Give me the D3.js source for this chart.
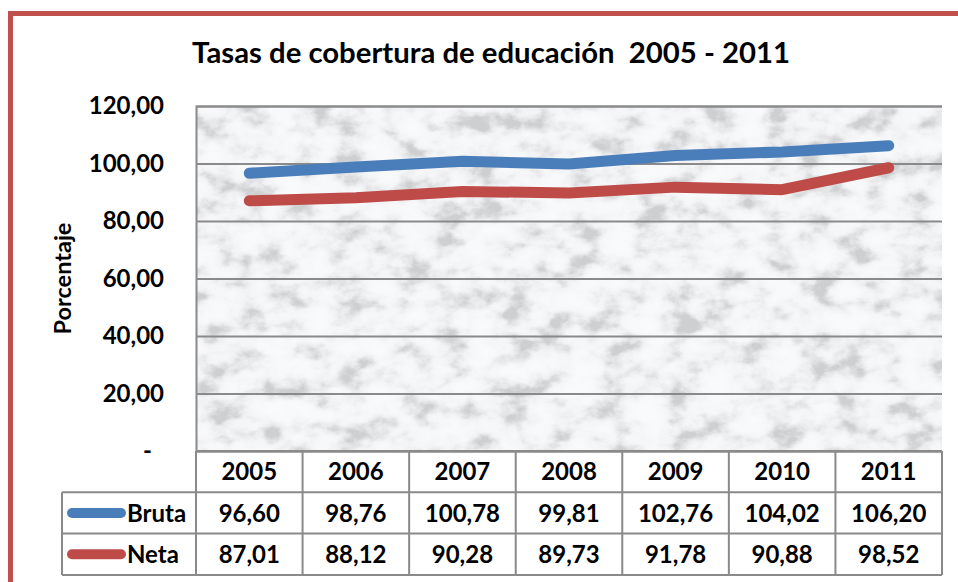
<!DOCTYPE html>
<html>
<head>
<meta charset="utf-8">
<script src="https://cdn.jsdelivr.net/npm/d3@7"></script>
<style>
  body { margin: 0; background: #ffffff; }
  svg { display: block; font-family: Lato, "Open Sans", sans-serif; font-weight: bold; }
</style>
</head>
<body>
<div class="chart-container"></div>
<script>
// Data
const years = ['2005', '2006', '2007', '2008', '2009', '2010', '2011'];
const bruta = [96.60, 98.76, 100.78, 99.81, 102.76, 104.02, 106.20];
const neta = [87.01, 88.12, 90.28, 89.73, 91.78, 90.88, 98.52];
const seriesNames = ['Bruta', 'Neta'];
const seriesColors = ['#4a7ebb', '#be4b48'];
const yTicks = [0, 20, 40, 60, 80, 100, 120];

const series = [bruta, neta];

// Layout
const W = 958, H = 582;
const plot = { left: 196, right: 942, top: 106, bottom: 451 };
const rowH = 41.3;
const legendLeft = 62;
const gridColor = '#8a8a8a';
const fontSize = 24;

const locale = d3.formatLocale({ decimal: ',', thousands: '.', grouping: [3], currency: ['', ''] });
const fmt = locale.format(',.2f');
const tickFmt = d => d === 0 ? '-' : fmt(d);

const x = d3.scaleBand().domain(years).range([plot.left, plot.right]).padding(0);
const y = d3.scaleLinear().domain([0, 120]).range([plot.bottom, plot.top]);
const cx = d => x(d) + x.bandwidth() / 2;

const svg = d3.select('.chart-container')
    .append('svg')
    .attr('width', W)
    .attr('height', H);

// Marble texture filter (stretched fractal noise)
const defs = svg.append('defs');
const marble = defs.append('filter')
    .attr('id', 'marble')
    .attr('filterUnits', 'userSpaceOnUse')
    .attr('x', plot.left).attr('y', plot.top)
    .attr('width', plot.right - plot.left).attr('height', plot.bottom - plot.top);
marble.append('feTurbulence')
    .attr('type', 'fractalNoise')
    .attr('baseFrequency', '0.03 0.045')
    .attr('numOctaves', 5)
    .attr('seed', 4)
    .attr('result', 'noise');
marble.append('feColorMatrix')
    .attr('in', 'noise')
    .attr('type', 'matrix')
    .attr('values', '2 0 0 0 -0.5  2 0 0 0 -0.5  2 0 0 0 -0.5  0 0 0 0 1')
    .attr('result', 'gray');
const ct = marble.append('feComponentTransfer').attr('in', 'gray');
['feFuncR', 'feFuncG', 'feFuncB'].forEach((f, i) => {
    const tint = [0, 0.006, 0.02][i];
    ct.append(f).attr('type', 'table')
        .attr('tableValues', [0.62, 0.7, 0.78, 0.85, 0.895, 0.92, 0.935, 0.942, 0.947].map(v => Math.min(1, v + tint)).join(' '));
});

// Frame
svg.append('rect')
    .attr('x', 10.5).attr('y', 13.5)
    .attr('width', 1200).attr('height', 1200)
    .attr('fill', 'none')
    .attr('stroke', '#c0504d')
    .attr('stroke-width', 5);

// Title
svg.append('text')
    .attr('x', 491).attr('y', 63)
    .attr('text-anchor', 'middle')
    .attr('font-size', 29.3)
    .attr('fill', '#000')
    .style('white-space', 'pre')
    .text('Tasas de cobertura de educación  2005 - 2011');

// Plot background
svg.append('rect')
    .attr('x', plot.left).attr('y', plot.top)
    .attr('width', plot.right - plot.left).attr('height', plot.bottom - plot.top)
    .attr('fill', '#e9eaed')
    .attr('filter', 'url(#marble)');

// Y axis with gridlines
const yAxis = svg.append('g')
    .attr('transform', `translate(${plot.left},0)`)
    .call(d3.axisLeft(y)
        .tickValues(yTicks)
        .tickSize(-(plot.right - plot.left))
        .tickPadding(32)
        .tickFormat(tickFmt));
yAxis.select('.domain').attr('stroke', gridColor).attr('stroke-width', 2);
yAxis.selectAll('.tick line').attr('stroke', gridColor).attr('stroke-width', 2);
yAxis.selectAll('.tick text')
    .attr('font-size', fontSize)
    .attr('font-family', 'Lato, sans-serif')
    .attr('font-weight', 'bold')
    .attr('fill', '#000');
yAxis.selectAll('.tick').filter(d => d === 0).select('text').attr('x', -44);

// Y axis title
svg.append('text')
    .attr('transform', `translate(71,${(plot.top + plot.bottom) / 2}) rotate(-90)`)
    .attr('text-anchor', 'middle')
    .attr('font-size', 23.5)
    .attr('fill', '#000')
    .text('Porcentaje');

// Lines
const line = d3.line()
    .x((d, i) => cx(years[i]))
    .y(d => y(d));

svg.selectAll('.series-line')
    .data(series)
    .enter()
    .append('path')
    .attr('class', 'series-line')
    .attr('d', line)
    .attr('fill', 'none')
    .attr('stroke', (d, i) => seriesColors[i])
    .attr('stroke-width', 11)
    .attr('stroke-linecap', 'round')
    .attr('stroke-linejoin', 'round');

// Data table
const table = svg.append('g').attr('class', 'data-table');
const rowTop = i => plot.bottom + i * rowH;
const tableBottom = rowTop(3);

// horizontal lines
table.append('line')
    .attr('x1', plot.left).attr('x2', plot.right)
    .attr('y1', rowTop(0)).attr('y2', rowTop(0));
[1, 2, 3].forEach(r => {
    table.append('line')
        .attr('x1', legendLeft).attr('x2', plot.right)
        .attr('y1', rowTop(r)).attr('y2', rowTop(r));
});
// vertical lines
years.forEach(yr => {
    table.append('line')
        .attr('x1', x(yr)).attr('x2', x(yr))
        .attr('y1', rowTop(0)).attr('y2', tableBottom);
});
table.append('line')
    .attr('x1', plot.right).attr('x2', plot.right)
    .attr('y1', rowTop(0)).attr('y2', tableBottom);
table.append('line')
    .attr('x1', legendLeft).attr('x2', legendLeft)
    .attr('y1', rowTop(1)).attr('y2', tableBottom);
table.selectAll('line')
    .attr('stroke', gridColor)
    .attr('stroke-width', 2);

// year headers
table.selectAll('.year-label')
    .data(years)
    .enter()
    .append('text')
    .attr('class', 'year-label')
    .attr('x', d => cx(d))
    .attr('y', rowTop(0) + rowH / 2)
    .attr('dy', '0.36em')
    .attr('text-anchor', 'middle')
    .attr('font-size', fontSize)
    .text(d => d);

// series rows
series.forEach((vals, si) => {
    const yMid = rowTop(si + 1) + rowH / 2;
    table.append('line')
        .attr('x1', 72).attr('x2', 121)
        .attr('y1', yMid).attr('y2', yMid)
        .attr('stroke', seriesColors[si])
        .attr('stroke-width', 10)
        .attr('stroke-linecap', 'round');
    table.append('text')
        .attr('x', 127)
        .attr('y', yMid)
        .attr('dy', '0.36em')
        .attr('font-size', fontSize)
        .text(seriesNames[si]);
    table.selectAll('.val-' + si)
        .data(vals)
        .enter()
        .append('text')
        .attr('class', 'val-' + si)
        .attr('x', (d, i) => cx(years[i]))
        .attr('y', yMid)
        .attr('dy', '0.36em')
        .attr('text-anchor', 'middle')
        .attr('font-size', fontSize)
        .text(d => fmt(d));
});
</script>
</body>
</html>
